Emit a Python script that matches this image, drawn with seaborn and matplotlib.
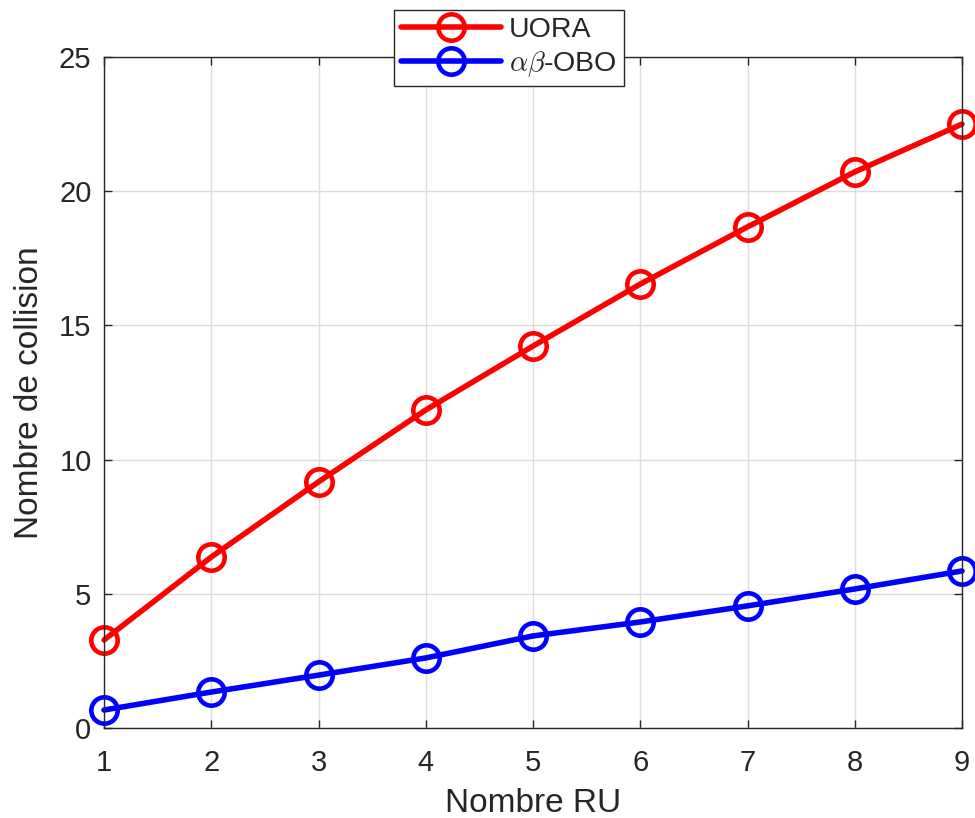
import numpy as np
import pandas as pd
import matplotlib
matplotlib.use("Agg")
import matplotlib.pyplot as plt
import seaborn as sns

# === DATA ===
nombre_ru = [1, 2, 3, 4, 5, 6, 7, 8, 9]
uora = [3.28, 6.37, 9.17, 11.85, 14.23, 16.54, 18.67, 20.72, 22.5]
ab_obo = [0.67, 1.34, 1.97, 2.61, 3.43, 3.95, 4.55, 5.18, 5.85]
series_names = ["UORA", r"$\alpha\beta$-OBO"]
series_colors = ["#ff0000", "#0000ff"]
y_ticks = [0, 5, 10, 15, 20, 25]

df = pd.concat([
    pd.DataFrame({"RU": nombre_ru, "val": uora, "serie": series_names[0]}),
    pd.DataFrame({"RU": nombre_ru, "val": ab_obo, "serie": series_names[1]}),
], ignore_index=True)

sns.set_style("whitegrid")
plt.rcParams["font.family"] = ["Liberation Sans", "DejaVu Sans"]
plt.rcParams["mathtext.fontset"] = "cm"

fig = plt.figure(figsize=(9.75, 8.18), dpi=100)
ax = fig.add_axes([104 / 975, 90 / 818, 858 / 975, 671 / 818])

sns.lineplot(data=df, x="RU", y="val", hue="serie", palette=series_colors,
             marker="o", markersize=19, markerfacecolor="none",
             markeredgewidth=3.3, linewidth=4, ax=ax, clip_on=False)
for line in ax.lines:
    line.set_markeredgecolor(line.get_color())

ax.set_xlim(1, 9)
ax.set_ylim(0, 25)
ax.set_xticks(nombre_ru)
ax.set_yticks(y_ticks)
ax.grid(True, color="#dcdcdc", linewidth=1)
for s in ax.spines.values():
    s.set_color("#262626")
    s.set_linewidth(1)
    s.set_visible(True)
ax.tick_params(direction="in", length=6, width=1, labelsize=21,
               colors="#262626", top=True, right=True, left=True, bottom=True)
ax.tick_params(axis="x", pad=15)
ax.tick_params(axis="y", pad=9)
ax.set_xlabel("Nombre RU", fontsize=24, color="#262626", labelpad=8)
ax.set_ylabel("Nombre de collision", fontsize=24, color="#262626", labelpad=10)

h, l = ax.get_legend_handles_labels()
leg = ax.legend(h, l, loc="upper center", bbox_to_anchor=(509 / 975, 808 / 818),
                bbox_transform=fig.transFigure, fontsize=20.5, frameon=True,
                fancybox=False, edgecolor="#262626", framealpha=1,
                handlelength=3.5, borderpad=0.25, labelspacing=0.2,
                handletextpad=0.3, borderaxespad=0)
leg.get_frame().set_linewidth(1)

fig.savefig("out.png", dpi=100)
